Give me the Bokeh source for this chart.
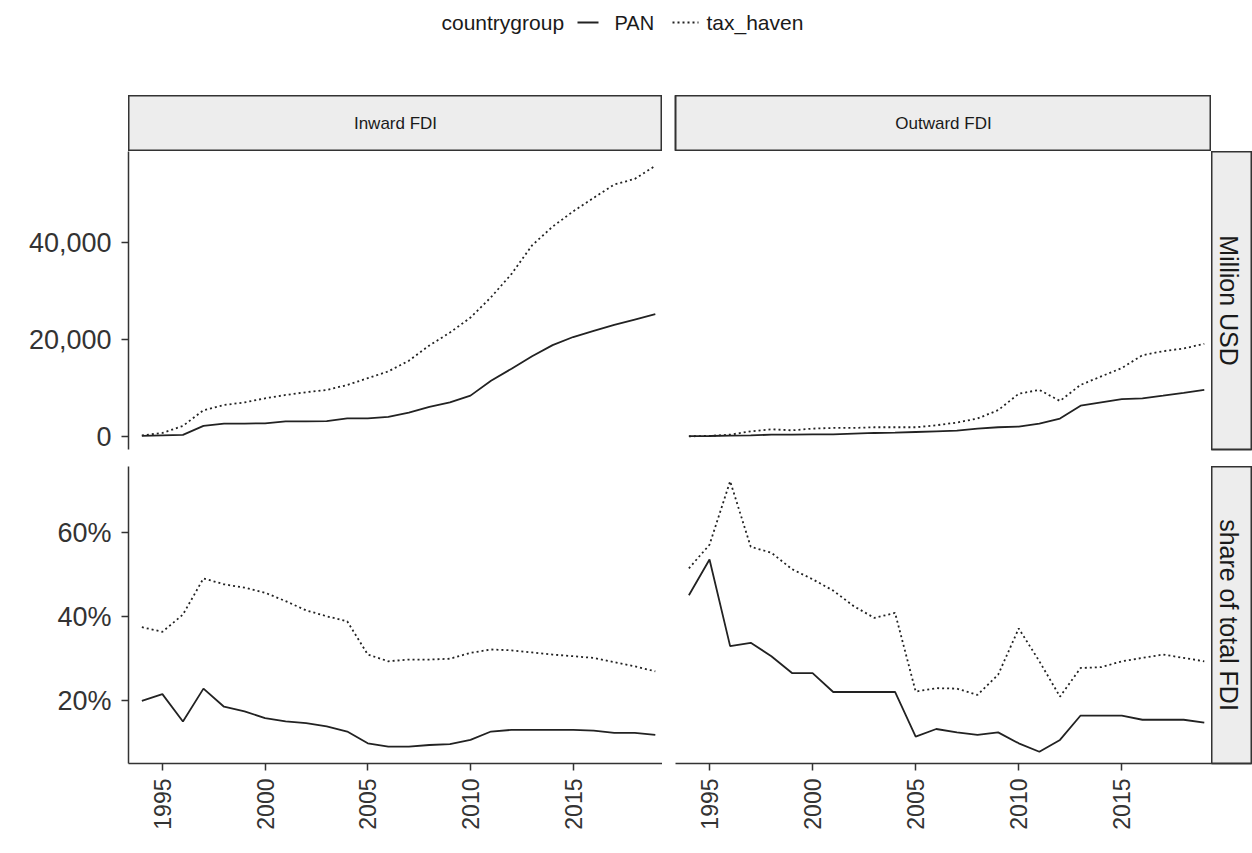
import math
from bokeh.plotting import figure
from bokeh.models import Range1d, FixedTicker, NumeralTickFormatter, PrintfTickFormatter, Spacer
from bokeh.layouts import column, row
from bokeh.core.properties import value
from bokeh.embed import file_html
from bokeh.resources import INLINE

# ---------------- data ----------------
years = list(range(1994, 2020))
facet_cols = ["Inward FDI", "Outward FDI"]
facet_rows = ["Million USD", "share of total FDI"]
groups = ["PAN", "tax_haven"]
legend_title = "countrygroup"
x_ticks = [1995, 2000, 2005, 2010, 2015]
musd_ticks = [0, 20000, 40000]
share_ticks = [20, 40, 60]

inward_pan_musd = [100, 200, 300, 2150, 2640, 2640, 2700, 3100, 3100, 3150, 3700, 3700, 4000,
                   4900, 6100, 7000, 8400, 11460, 13960, 16530, 18820, 20490, 21740, 22990, 24100, 25200]
inward_tax_musd = [200, 700, 2150, 5400, 6460, 7000, 7850, 8540, 9100, 9580, 10600, 12000, 13400,
                   15600, 18750, 21400, 24500, 28700, 33500, 39400, 43260, 46400, 49200, 51940, 53100, 55800]
outward_pan_musd = [50, 80, 150, 200, 350, 350, 400, 400, 550, 700, 760, 900, 1040,
                    1180, 1600, 1880, 2010, 2640, 3680, 6320, 7010, 7700, 7850, 8400, 8960, 9580]
outward_tax_musd = [0, 100, 350, 1040, 1460, 1250, 1600, 1740, 1740, 1880, 1880, 1880, 2290,
                    2850, 3680, 5400, 8800, 9580, 7300, 10620, 12360, 14100, 16740, 17570, 18120, 19100]

inward_pan_share = [20.0, 21.6, 15.1, 22.9, 18.6, 17.5, 15.9, 15.1, 14.7, 13.9, 12.7, 9.9, 9.1,
                    9.1, 9.5, 9.7, 10.7, 12.7, 13.1, 13.1, 13.1, 13.1, 12.9, 12.4, 12.4, 11.9]
inward_tax_share = [37.5, 36.4, 40.5, 49.1, 47.7, 46.9, 45.7, 43.7, 41.5, 40.1, 38.9, 31.0, 29.4,
                    29.8, 29.8, 30.0, 31.4, 32.2, 32.0, 31.5, 31.0, 30.6, 30.2, 29.2, 28.2, 27.0]
outward_pan_share = [45.1, 53.6, 33.0, 33.8, 30.6, 26.6, 26.6, 22.1, 22.1, 22.1, 22.1, 11.5, 13.3,
                     12.5, 11.9, 12.5, 9.9, 7.9, 10.7, 16.5, 16.5, 16.5, 15.5, 15.5, 15.5, 14.8]
outward_tax_share = [51.5, 57.1, 72.2, 56.6, 55.2, 51.3, 48.9, 46.2, 42.5, 39.7, 40.9, 22.2, 23.0,
                     22.9, 21.4, 26.2, 37.2, 29.4, 21.0, 27.8, 28.0, 29.4, 30.2, 31.0, 30.2, 29.4]

# ---------------- style ----------------
FONT = "Liberation Sans"
INK = "#222222"
AXIS = "#333333"
LABEL = "#333333"
STRIP_FILL = "#EDEDED"
DOT = "2 3"
LW = 1.8

XR = (1993.35, 2019.35)
TOP_Y = (-2708, 58750)
BOT_Y = (5.1, 75.7)

W_LEFT = 128      # room for y labels (incl. page offset)
W_P1 = 534        # left panel frame
GAP = 13
W_P2 = 536        # right panel frame
W_STRIP = 41
W_TOTAL = W_LEFT + W_P1 + GAP + W_P2 + W_STRIP
H_LEG = 95
H_STRIP = 56
H_TOP = 298
GAP_V = 17
H_BOT = 297
B_BOT = 75


def mk(fw, fh, left=0, bottom=0, xr=XR, yr=(0, 1), xaxis=False, yaxis=False):
    p = figure(frame_width=fw, frame_height=fh, title=None,
               min_border_left=left, min_border_right=0, min_border_top=0, min_border_bottom=bottom,
               x_range=Range1d(*xr), y_range=Range1d(*yr),
               x_axis_location="below" if xaxis else None,
               y_axis_location="left" if yaxis else None,
               output_backend="svg", toolbar_location=None)
    p.outline_line_color = None
    p.background_fill_color = "white"
    p.border_fill_color = "white"
    for g in p.grid:
        g.visible = False
    return p


def style_axis(ax, size):
    ax.axis_line_color = AXIS
    ax.axis_line_width = 1.5
    ax.major_tick_line_color = AXIS
    ax.major_tick_line_width = 1.5
    ax.major_tick_out = 7
    ax.major_tick_in = 0
    ax.minor_tick_line_color = None
    ax.major_label_text_font = FONT
    ax.major_label_text_font_size = size
    ax.major_label_text_color = LABEL


def add_series(p, pan, tax):
    p.line(years, pan, line_color=INK, line_width=LW)
    p.line(years, tax, line_color=INK, line_width=LW, line_dash=DOT)


def top_strip(label, fw, left):
    s = mk(fw, H_STRIP, left=left, xr=(0, 1))
    s.background_fill_color = STRIP_FILL
    s.outline_line_color = AXIS
    s.outline_line_width = 2
    s.text(x=[0.5], y=[0.5], text=[label], text_align="center", text_baseline="middle",
           text_font=value(FONT), text_font_size="17px", text_color="#1a1a1a")
    return s


def side_strip(label, fh, bottom):
    s = mk(W_STRIP, fh, bottom=bottom, xr=(0, 1))
    s.background_fill_color = STRIP_FILL
    s.outline_line_color = AXIS
    s.outline_line_width = 2
    s.text(x=[0.42], y=[0.5], text=[label], text_align="center", text_baseline="middle",
           angle=-math.pi / 2, text_font=value(FONT), text_font_size="25px", text_color="#1a1a1a")
    return s


# ---------------- legend ----------------
leg = figure(frame_width=W_TOTAL, frame_height=H_LEG, title=None,
             min_border_left=0, min_border_right=0, min_border_top=0, min_border_bottom=0,
             x_range=Range1d(0, W_TOTAL), y_range=Range1d(H_LEG, 0),
             x_axis_location=None, y_axis_location=None, output_backend="svg", toolbar_location=None)
leg.outline_line_color = None
leg.border_fill_color = "white"
for g in leg.grid:
    g.visible = False
LEG_Y = 22
leg.text(x=[441], y=[LEG_Y], text=[legend_title], text_align="left", text_baseline="middle",
         text_font=value(FONT), text_font_size="21px", text_color="#1a1a1a")
leg.line([577, 598], [LEG_Y, LEG_Y], line_color=INK, line_width=LW)
leg.text(x=[614], y=[LEG_Y], text=[groups[0]], text_align="left", text_baseline="middle",
         text_font=value(FONT), text_font_size="20px", text_color="#1a1a1a")
leg.line([672, 698], [LEG_Y, LEG_Y], line_color=INK, line_width=LW, line_dash=DOT)
leg.text(x=[706], y=[LEG_Y], text=[groups[1]], text_align="left", text_baseline="middle",
         text_font=value(FONT), text_font_size="21px", text_color="#1a1a1a")

# ---------------- strips ----------------
strip_l = top_strip(facet_cols[0], W_P1, 0)
strip_r = top_strip(facet_cols[1], W_P2, GAP)

# ---------------- panels ----------------
tl = mk(W_P1, H_TOP, left=W_LEFT, bottom=GAP_V, yr=TOP_Y, yaxis=True)
style_axis(tl.yaxis[0], "27px")
tl.yaxis[0].ticker = FixedTicker(ticks=musd_ticks)
tl.yaxis[0].formatter = NumeralTickFormatter(format="0,0")
tl.yaxis[0].major_label_standoff = 10
add_series(tl, inward_pan_musd, inward_tax_musd)

tr = mk(W_P2, H_TOP, left=GAP, bottom=GAP_V, yr=TOP_Y)
add_series(tr, outward_pan_musd, outward_tax_musd)

bl = mk(W_P1, H_BOT, left=W_LEFT, bottom=B_BOT, yr=BOT_Y, xaxis=True, yaxis=True)
style_axis(bl.yaxis[0], "27px")
bl.yaxis[0].ticker = FixedTicker(ticks=share_ticks)
bl.yaxis[0].formatter = PrintfTickFormatter(format="%d%%")
bl.yaxis[0].major_label_standoff = 10
add_series(bl, inward_pan_share, inward_tax_share)

br = mk(W_P2, H_BOT, left=GAP, bottom=B_BOT, yr=BOT_Y, xaxis=True)
add_series(br, outward_pan_share, outward_tax_share)

for p in (bl, br):
    ax = p.xaxis[0]
    style_axis(ax, "23px")
    ax.ticker = FixedTicker(ticks=x_ticks)
    ax.major_label_orientation = math.pi / 2
    ax.major_label_standoff = 8

side_top = side_strip(facet_rows[0], H_TOP, GAP_V)
side_bot = side_strip(facet_rows[1], H_BOT, B_BOT)

layout = column(
    leg,
    row(Spacer(width=W_LEFT, height=H_STRIP), strip_l, strip_r, Spacer(width=W_STRIP, height=H_STRIP), spacing=0),
    row(tl, tr, side_top, spacing=0),
    row(bl, br, side_bot, spacing=0),
    spacing=0,
)

open("out.html", "w").write(file_html(layout, INLINE))
